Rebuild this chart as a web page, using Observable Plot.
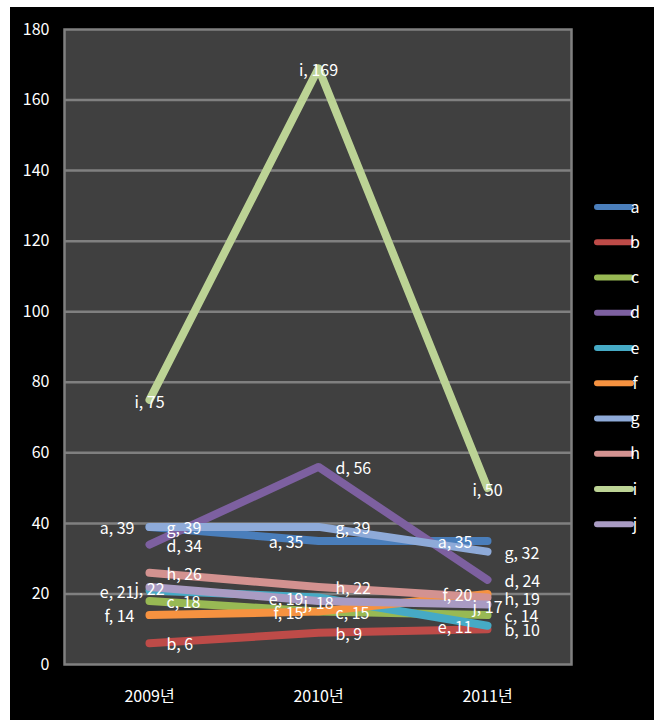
<!DOCTYPE html>
<html><head><meta charset="utf-8">
<script src="https://cdn.jsdelivr.net/npm/d3@7"></script>
<script src="https://cdn.jsdelivr.net/npm/@observablehq/plot@0.6"></script>
<style>
body{margin:0;background:#fff;}
#bg{position:absolute;left:10px;top:7px;width:644px;height:713px;background:#000;}
#chart{position:absolute;left:0;top:0;}
</style></head><body><div id="bg"></div><div id="chart"></div>
<script>
const years = ["2009년", "2010년", "2011년"];
const series = ["a", "b", "c", "d", "e", "f", "g", "h", "i", "j"];
const a = [39, 35, 35];
const b = [6, 9, 10];
const c = [18, 15, 14];
const d = [34, 56, 24];
const e = [21, 19, 11];
const f = [14, 15, 20];
const g = [39, 39, 32];
const h = [26, 22, 19];
const i = [75, 169, 50];
const j = [22, 18, 17];
const yTicks = [0, 20, 40, 60, 80, 100, 120, 140, 160, 180];

const values = {a, b, c, d, e, f, g, h, i, j};
const colors = ["#4a7ebb", "#be4b48", "#98b954", "#7d60a0", "#46aac5", "#f69240", "#8eaad8", "#d39290", "#bcd395", "#a99bc3"];
const labelSide = {a: "left", b: "right", c: "right", d: "right", e: "left", f: "left", g: "right", h: "right", i: "center", j: "center"};

const rows = [];
for (const s of series) values[s].forEach((v, k) => rows.push({series: s, year: years[k], value: v}));
const lab = (side) => rows.filter(r => labelSide[r.series] === side);
const txt = r => `${r.series}, ${r.value}`;
const font = "'Noto Sans CJK KR', 'Noto Sans', sans-serif";
const fs = 16;

const chart = Plot.plot({
  width: 654, height: 720,
  marginLeft: 64, marginRight: 83, marginTop: 29, marginBottom: 56,
  style: {background: "transparent", color: "#fff", fontFamily: font, fontSize: fs + "px"},
  x: {type: "point", domain: years, padding: 0.5, label: null},
  y: {domain: [0, 180], label: null},
  color: {domain: series, range: colors},
  marks: [
    Plot.frame({fill: "#404040"}),
    Plot.ruleY(yTicks.slice(1, -1), {stroke: "#808080", strokeWidth: 2.5}),
    Plot.frame({stroke: "#808080", strokeWidth: 2.5}),
    Plot.axisY({ticks: yTicks, tickSize: 0, tickPadding: 15, fontSize: fs, fill: "#fff", label: null}),
    Plot.axisX({tickSize: 0, tickPadding: 26, fontSize: fs, fill: "#fff", label: null}),
    Plot.line(rows, {x: "year", y: "value", z: "series", stroke: "series", strokeWidth: 8, strokeLinecap: "round", strokeLinejoin: "round"}),
    Plot.text(lab("right"), {x: "year", y: "value", text: txt, textAnchor: "start", dx: 17, dy: 2, fill: "#fff", fontSize: fs}),
    Plot.text(lab("left"), {x: "year", y: "value", text: txt, textAnchor: "end", dx: -15, dy: 2, fill: "#fff", fontSize: fs}),
    Plot.text(lab("center"), {x: "year", y: "value", text: txt, textAnchor: "middle", dy: 3, fill: "#fff", fontSize: fs})
  ]
});

const svg = d3.select(chart);
const leg = svg.append("g");
series.forEach((s, k) => {
  const y = 207 + k * 35.25;
  leg.append("line").attr("x1", 597).attr("x2", 631).attr("y1", y).attr("y2", y)
    .attr("stroke", colors[k]).attr("stroke-width", 6).attr("stroke-linecap", "round");
  leg.append("text").attr("x", 635).attr("y", y).attr("dy", "0.35em")
    .attr("fill", "#fff").attr("font-size", fs).attr("font-family", font).text(s);
});
document.getElementById("chart").appendChild(chart);
</script></body></html>
